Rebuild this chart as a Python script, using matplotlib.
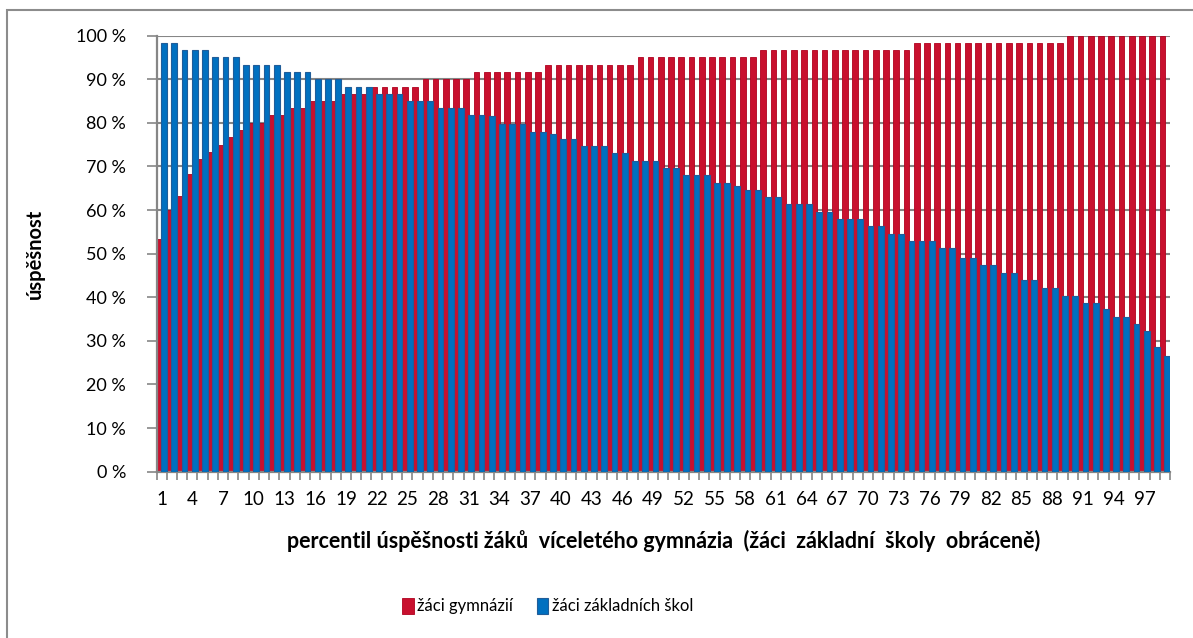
import numpy as np
import matplotlib
matplotlib.use("Agg")
import matplotlib.pyplot as plt
from matplotlib.patches import Rectangle
from matplotlib.ticker import FuncFormatter, FixedLocator, MultipleLocator

plt.rcParams['font.family'] = ['Lato', 'DejaVu Sans']

# percentily 1..99
percentil = list(range(1, 100))

# žáci gymnázií (v %)
gymnazia = [53.3, 60.0, 63.3, 68.3, 71.7, 73.3, 75.0, 76.7, 78.3, 80.0,
            80.0, 81.7, 81.7, 83.3, 83.3, 85.0, 85.0, 85.0, 86.7, 86.7,
            86.7, 88.3, 88.3, 88.3, 88.3, 88.3, 90.0, 90.0, 90.0, 90.0,
            90.0, 91.7, 91.7, 91.7, 91.7, 91.7, 91.7, 91.7, 93.3, 93.3,
            93.3, 93.3, 93.3, 93.3, 93.3, 93.3, 93.3, 95.0, 95.0, 95.0,
            95.0, 95.0, 95.0, 95.0, 95.0, 95.0, 95.0, 95.0, 95.0, 96.7,
            96.7, 96.7, 96.7, 96.7, 96.7, 96.7, 96.7, 96.7, 96.7, 96.7,
            96.7, 96.7, 96.7, 96.7, 98.3, 98.3, 98.3, 98.3, 98.3, 98.3,
            98.3, 98.3, 98.3, 98.3, 98.3, 98.3, 98.3, 98.3, 98.3, 100.0,
            100.0, 100.0, 100.0, 100.0, 100.0, 100.0, 100.0, 100.0, 100.0]

# žáci základních škol (obráceně, v %)
zakladni = [98.3, 98.3, 96.7, 96.7, 96.7, 95.0, 95.0, 95.0, 93.3, 93.3,
            93.3, 93.3, 91.7, 91.7, 91.7, 90.0, 90.0, 90.0, 88.3, 88.3,
            88.3, 86.7, 86.7, 86.7, 85.0, 85.0, 85.0, 83.3, 83.3, 83.3,
            81.7, 81.7, 81.5, 79.8, 79.8, 79.8, 78.0, 78.0, 77.5, 76.3,
            76.3, 74.7, 74.7, 74.7, 73.0, 73.0, 71.3, 71.3, 71.3, 69.6,
            69.6, 68.0, 68.0, 68.0, 66.3, 66.3, 65.5, 64.6, 64.6, 62.9,
            62.9, 61.3, 61.3, 61.3, 59.6, 59.6, 58.0, 58.0, 58.0, 56.3,
            56.3, 54.6, 54.6, 52.9, 52.9, 52.9, 51.2, 51.2, 49.0, 49.0,
            47.3, 47.3, 45.6, 45.6, 43.9, 43.9, 42.1, 42.1, 40.3, 40.3,
            38.8, 38.8, 37.2, 35.5, 35.5, 33.9, 32.2, 28.7, 26.6]

x_labels = [str(p) for p in percentil[::3]]

fig = plt.figure(figsize=(11.93, 6.38), dpi=100)
ax = fig.add_axes([0.1312, 0.2607, 0.8495, 0.6834])

x = np.arange(len(percentil))
ax.bar(x - 0.24, gymnazia, width=0.55, color='#C8102E', edgecolor='#B0001E',
       linewidth=0.6, label='žáci gymnázií', zorder=2)
ax.bar(x + 0.24, zakladni, width=0.56, color='#0070C0', edgecolor='#215D99',
       linewidth=0.8, label='žáci základních škol', zorder=3)

ax.set_xlim(-0.5, len(percentil) - 0.5)
ax.set_ylim(0, 100)

grey = '#868686'
ax.yaxis.set_major_locator(MultipleLocator(10))
ax.yaxis.set_major_formatter(FuncFormatter(lambda v, p: f"{v:.0f} %"))
ax.grid(axis='y', color=grey, linewidth=1.5, zorder=0)
ax.set_axisbelow(True)

ax.set_xticks(x[::3])
ax.set_xticklabels(x_labels)
ax.xaxis.set_minor_locator(FixedLocator(np.arange(-0.5, len(percentil), 1)))
ax.tick_params(axis='x', which='major', length=0, labelsize=13.5, pad=14)
ax.tick_params(axis='x', which='minor', length=6, width=1.2, color=grey)
ax.tick_params(axis='y', length=7, width=1.2, color=grey, labelsize=13, pad=15)

for side in ['top', 'right']:
    ax.spines[side].set_visible(False)
for side in ['left', 'bottom']:
    ax.spines[side].set_color(grey)
    ax.spines[side].set_linewidth(1.6)

ax.set_ylabel('úspěšnost', fontsize=14.5, fontweight='bold', labelpad=22)
ax.set_xlabel('percentil úspěšnosti žáků  víceletého gymnázia  (žáci  základní  školy  obráceně)',
              fontsize=15.5, fontweight='bold', labelpad=16)

ax.legend(loc='center', bbox_to_anchor=(0.386, -0.308), ncol=2, frameon=False,
          fontsize=12, handlelength=0.7, handleheight=1.1, handletextpad=0.2,
          columnspacing=1.4)

# rámeček grafu
fig.patches.append(Rectangle((7 / 1193, -0.05), 1.1, (638 - 10) / 638 + 0.05,
                             transform=fig.transFigure, fill=False,
                             edgecolor='#8C8C8C', linewidth=1.5))

fig.savefig('out.png', dpi=100)
